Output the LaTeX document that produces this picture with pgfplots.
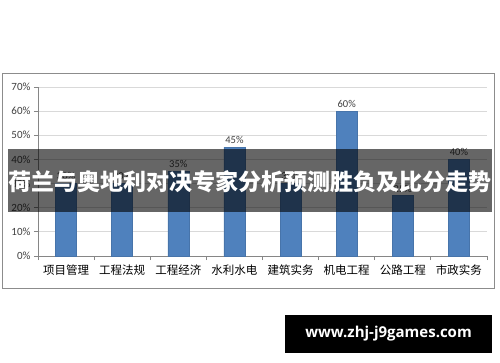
\documentclass[border=0pt]{standalone}
\usepackage{fontspec}
\setmainfont{Carlito}
\newfontfamily\cjk{Noto Sans CJK SC}
\newfontfamily\osans{Open Sans}
\usepackage{pgfplots}
\pgfplotsset{compat=1.18}
\definecolor{barblue}{HTML}{4F81BD}
\definecolor{txtgray}{HTML}{404040}
\definecolor{gridgray}{HTML}{D9D9D9}
\definecolor{axgray}{HTML}{868686}
\begin{document}
\begin{tikzpicture}
\path[use as bounding box] (0pt,0pt) rectangle (500pt,362pt);
\fill[white] (0pt,0pt) rectangle (500pt,362pt);
\draw[color=black!45, line width=0.8pt] (2pt,74pt) rectangle (494pt,289pt);
\begin{axis}[
  at={(38pt,106pt)}, anchor=origin,
  scale only axis, width=449pt, height=169pt,
  xmin=0, xmax=8, ymin=0, ymax=70,
  axis x line*=bottom, axis y line*=left,
  axis line style={axgray, line width=0.8pt},
  xtick={0.5,1.5,2.5,3.5,4.5,5.5,6.5,7.5},
  xticklabels={项目管理,工程法规,工程经济,水利水电,建筑实务,机电工程,公路工程,市政实务},
  xticklabel style={font=\cjk\fontsize{11.5}{12}\selectfont, text=black, yshift=-1pt},
  minor xtick={0,1,2,3,4,5,6,7,8},
  major x tick style={draw=none},
  minor x tick style={axgray, line width=0.8pt},
  minor tick length=4pt,
  ytick={0,10,20,30,40,50,60,70},
  yticklabel={\pgfmathprintnumber{\tick}\%},
  yticklabel style={font=\fontsize{11}{13}\selectfont, text=txtgray},
  y tick style={axgray, line width=0.8pt},
  major tick length=4pt,
  tick align=outside,
  /pgf/number format/assume math mode=true,
  ymajorgrids, grid style={gridgray, line width=0.8pt},
  clip=false,
  nodes near coords={\pgfmathprintnumber{\pgfplotspointmeta}\%},
  nodes near coords style={font=\fontsize{10.5}{12}\selectfont, text=txtgray, /pgf/number format/assume math mode=true},
]
\addplot[ybar, bar width=21pt, fill=barblue, draw=barblue!90!black, line width=0.4pt]
  coordinates {(0.5,30) (1.5,30) (2.5,35) (3.5,45) (4.5,30) (5.5,60) (6.5,25) (7.5,40)};
\end{axis}
\fill[black, opacity=0.6] (8pt,150pt) rectangle (492pt,213pt);
\node[text=white, font=\cjk\bfseries\fontsize{23}{26}\selectfont] at (250pt,180.5pt) {荷兰与奥地利对决专家分析预测胜负及比分走势};
\fill[black] (285pt,9pt) rectangle (492pt,47pt);
\node[text=white, font=\osans\bfseries\fontsize{15}{17}\selectfont] at (388.5pt,28pt) {www.zhj-j9games.com};
\end{tikzpicture}
\end{document}
